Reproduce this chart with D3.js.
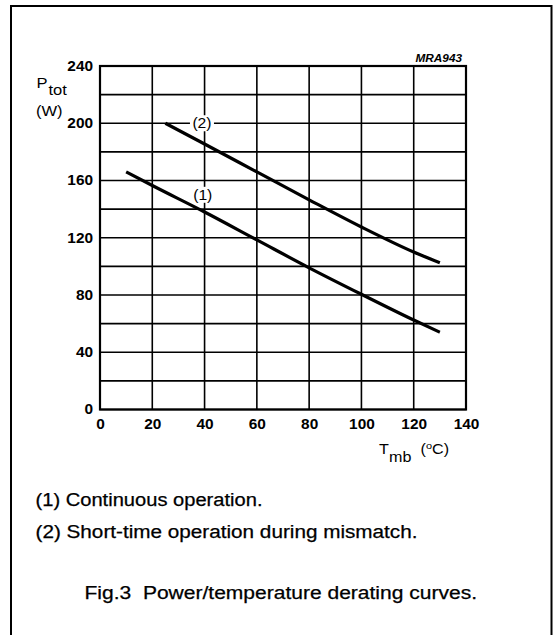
<!DOCTYPE html>
<html>
<head>
<meta charset="utf-8">
<script src="https://cdn.jsdelivr.net/npm/d3@7"></script>
<style>
  body { margin: 0; background: #fff; }
  svg { display: block; }
  text { font-family: "Liberation Sans", Arial, sans-serif; fill: #000; }
</style>
</head>
<body>
<div id="chart"></div>
<script>
// ---- data ----
const xTicks = [0, 20, 40, 60, 80, 100, 120, 140];
const yTicks = [0, 40, 80, 120, 160, 200, 240];
const yGrid = [0, 20, 40, 60, 80, 100, 120, 140, 160, 180, 200, 220, 240];

// (1) continuous operation
const curve1T = [10, 20, 40, 60, 80, 100, 120, 130];
const curve1P = [166, 156.5, 138, 118.5, 99, 80.5, 62.5, 54];
// (2) short-time operation during mismatch
const curve2T = [25, 40, 60, 80, 100, 120, 130];
const curve2P = [200, 185.5, 166, 146.5, 127.5, 110, 102.5];

const curveLabels = ["(1)", "(2)"];
const labelT = [39.3, 39];
const labelP = [150, 200];

const notes = ["(1) Continuous operation.", "(2) Short-time operation during mismatch."];
const caption = "Fig.3  Power/temperature derating curves.";

// ---- layout ----
const W = 554, H = 635;
const plot = {left: 100, right: 466, top: 66, bottom: 409.5};

const svg = d3.select("#chart").append("svg")
    .attr("width", W)
    .attr("height", H);

// outer frame (bottom edge runs off the page)
svg.append("path")
    .attr("d", `M11,${H + 5} L11,6 L551.5,6 L551.5,${H + 5}`)
    .attr("fill", "none")
    .attr("stroke", "#000")
    .attr("stroke-width", 2);

const x = d3.scaleLinear().domain([0, 140]).range([plot.left, plot.right]);
const y = d3.scaleLinear().domain([0, 240]).range([plot.bottom, plot.top]);

// the scanned lettering is wider than Arial, stretch it a bit
function stretch(sel, f) {
    sel.each(function () {
        const w = this.getComputedTextLength();
        d3.select(this).attr("textLength", w * f).attr("lengthAdjust", "spacingAndGlyphs");
    });
}

const g = svg.append("g");

// grid
g.selectAll(".vgrid").data(xTicks).join("line")
    .attr("class", "vgrid")
    .attr("x1", d => x(d)).attr("x2", d => x(d))
    .attr("y1", plot.top).attr("y2", plot.bottom)
    .attr("stroke", "#000").attr("stroke-width", 1.6);

g.selectAll(".hgrid").data(yGrid).join("line")
    .attr("class", "hgrid")
    .attr("x1", plot.left).attr("x2", plot.right)
    .attr("y1", d => y(d)).attr("y2", d => y(d))
    .attr("stroke", "#000").attr("stroke-width", 1.6);

g.append("rect")
    .attr("x", plot.left).attr("y", plot.top)
    .attr("width", plot.right - plot.left)
    .attr("height", plot.bottom - plot.top)
    .attr("fill", "none").attr("stroke", "#000").attr("stroke-width", 2.2);

// axes (labels only)
const xAxisG = svg.append("g")
    .attr("transform", `translate(0,${plot.bottom})`)
    .call(d3.axisBottom(x).tickValues(xTicks).tickSize(0).tickPadding(9.5).tickFormat(d3.format("d")));
const yAxisG = svg.append("g")
    .attr("transform", `translate(${plot.left},0)`)
    .call(d3.axisLeft(y).tickValues(yTicks).tickSize(0).tickPadding(7).tickFormat(d3.format("d")));

[xAxisG, yAxisG].forEach(a => {
    a.select(".domain").remove();
    a.selectAll("text")
        .attr("font-family", "Liberation Sans, Arial, sans-serif")
        .attr("font-size", 14)
        .attr("font-weight", "bold")
        .attr("fill", "#000");
    stretch(a.selectAll("text"), 1.1);
});

// curves
const line = d3.line()
    .x(d => x(d[0]))
    .y(d => y(d[1]))
    .curve(d3.curveMonotoneX);

const curves = [d3.zip(curve1T, curve1P), d3.zip(curve2T, curve2P)];

g.selectAll(".curve").data(curves).join("path")
    .attr("class", "curve")
    .attr("d", line)
    .attr("fill", "none")
    .attr("stroke", "#000")
    .attr("stroke-width", 3.2);

// curve labels
const lab = g.selectAll(".lab").data(curveLabels).join("g")
    .attr("class", "lab")
    .attr("transform", (d, i) => `translate(${x(labelT[i])},${y(labelP[i])})`);
lab.append("rect")
    .attr("x", -12).attr("y", -8).attr("width", 24).attr("height", 16)
    .attr("fill", "#fff");
lab.append("text")
    .attr("text-anchor", "middle")
    .attr("dy", "0.36em")
    .attr("font-size", 14)
    .text(d => d);
stretch(lab.selectAll("text"), 1.12);

// axis titles
const yTitle = svg.append("g").attr("font-size", 14);
yTitle.append("text").attr("x", 36.5).attr("y", 88).text("P");
yTitle.append("text").attr("x", 48.5).attr("y", 95).text("tot");
yTitle.append("text").attr("x", 36).attr("y", 116).text("(W)");
stretch(yTitle.selectAll("text"), 1.18);

const xTitle = svg.append("g").attr("font-size", 14);
xTitle.append("text").attr("x", 379).attr("y", 454).text("T");
xTitle.append("text").attr("x", 389).attr("y", 462).text("mb");
xTitle.append("text").attr("x", 420.5).attr("y", 454).text("(");
xTitle.append("text").attr("x", 426).attr("y", 448.5).attr("font-size", 9.5).text("o");
xTitle.append("text").attr("x", 432).attr("y", 454).text("C)");
stretch(xTitle.selectAll("text"), 1.15);

// code in the corner
svg.append("text")
    .attr("x", 462).attr("y", 61.5)
    .attr("text-anchor", "end")
    .attr("font-size", 11)
    .attr("font-weight", "bold")
    .attr("font-style", "italic")
    .attr("textLength", 46.5)
    .attr("lengthAdjust", "spacingAndGlyphs")
    .text("MRA943");

// notes and caption
const noteW = [227, 382];
svg.selectAll(".note").data(notes).join("text")
    .attr("class", "note")
    .attr("x", 35.5)
    .attr("y", (d, i) => 505.5 + i * 32.5)
    .attr("font-size", 18)
    .attr("stroke", "#000")
    .attr("stroke-width", 0.25)
    .attr("textLength", (d, i) => noteW[i])
    .attr("lengthAdjust", "spacingAndGlyphs")
    .text(d => d);

svg.append("text")
    .attr("x", 84.5).attr("y", 599)
    .attr("font-size", 17.5)
    .attr("stroke", "#000")
    .attr("stroke-width", 0.25)
    .style("white-space", "pre")
    .attr("textLength", 392.5)
    .attr("lengthAdjust", "spacingAndGlyphs")
    .text(caption);
</script>
</body>
</html>
